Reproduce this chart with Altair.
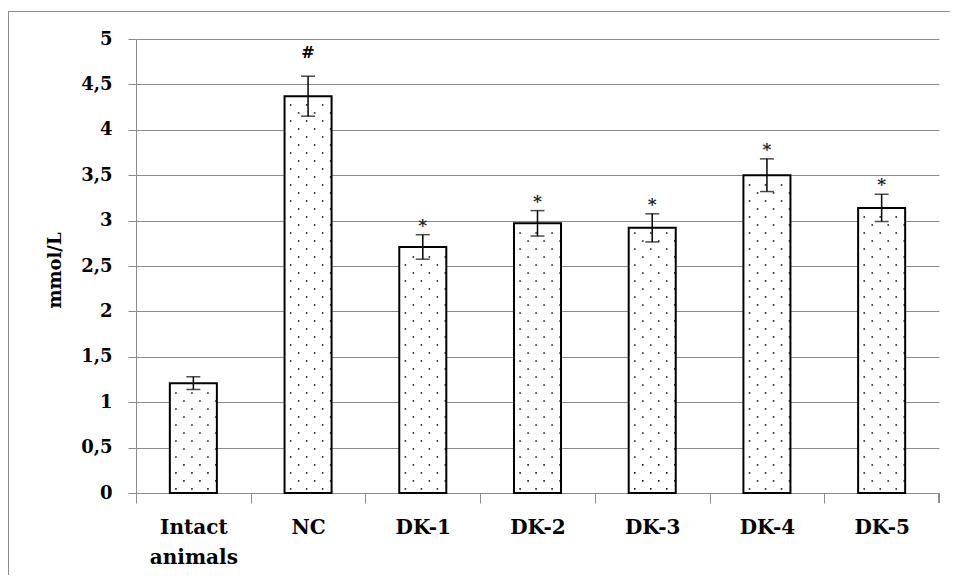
import altair as alt
import pandas as pd

categories = ["Intact animals", "NC", "DK-1", "DK-2", "DK-3", "DK-4", "DK-5"]
values = [1.21, 4.37, 2.71, 2.97, 2.92, 3.50, 3.14]
errors = [0.07, 0.22, 0.135, 0.14, 0.155, 0.18, 0.15]
marks = ["", "#", "*", "*", "*", "*", "*"]
y_ticks = [0, 0.5, 1, 1.5, 2, 2.5, 3, 3.5, 4, 4.5, 5]

df = pd.DataFrame({
    "category": categories,
    "value": values,
    "err": errors,
    "mark": marks,
})
df["low"] = df["value"] - df["err"]
df["high"] = df["value"] + df["err"]

# dotted fill texture (Excel "5%" pattern) built from the bar values
rows = []
row_step = 0.0881
for c, v in zip(categories, values):
    k = 0
    while 0.045 + k * row_step < v - 0.03:
        rows.append({"category": c, "yy": 0.045 + k * row_step, "parity": k % 2})
        k += 1
dots_df = pd.DataFrame(rows)
pattern_offsets = {0: [0.13, 0.47, 0.81], 1: [0.30, 0.64, 0.98]}

W, H = 803, 454
GRID = "#8c8c8c"
FONT = "DejaVu Serif"

xscale = alt.Scale(domain=categories, paddingInner=0.59, paddingOuter=0.295)
yscale = alt.Scale(domain=[0, 5], nice=False)

x_enc = alt.X(
    "category:N",
    sort=categories,
    scale=xscale,
    axis=alt.Axis(
        title=None,
        labelAngle=0,
        labelFont=FONT,
        labelFontSize=20,
        labelFontWeight="bold",
        labelColor="black",
        labelPadding=14,
        labelLineHeight=30,
        labelExpr="split(datum.label, ' ')",
        tickSize=10,
        tickColor=GRID,
        domainColor=GRID,
        tickOffset=-57.357,
        labelOffset=57.357,
        grid=False,
    ),
)

y_enc = alt.Y(
    "value:Q",
    scale=yscale,
    axis=alt.Axis(
        title="mmol/L",
        values=y_ticks,
        format=".1~f",
        labelExpr="replace(datum.label, '.', ',')",
        labelFont=FONT,
        labelFontSize=18,
        labelFontWeight="bold",
        labelColor="black",
        labelPadding=16,
        tickSize=8,
        tickColor=GRID,
        domainColor=GRID,
        grid=True,
        gridColor=GRID,
        gridWidth=1,
        titleFont=FONT,
        titleFontSize=18,
        titleFontWeight="bold",
        titleColor="black",
        titleX=-81,
        titleY=231,
        titleAngle=-90,
        titleAlign="center",
        titleBaseline="middle",
    ),
)

base = alt.Chart(df)

bars = base.mark_bar(fill="white", stroke="black", strokeWidth=2).encode(x=x_enc, y=y_enc)

dot_layers = []
for parity, offs in pattern_offsets.items():
    for o in offs:
        dot_layers.append(
            alt.Chart(dots_df)
            .transform_filter(f"datum.parity == {parity}")
            .mark_square(color="black", size=2.5, opacity=0.9)
            .encode(
                x=alt.X("category:N", sort=categories, scale=xscale, bandPosition=o),
                y=alt.Y("yy:Q", scale=yscale),
            )
        )

err_rule = base.mark_rule(color="black", strokeWidth=1.5).encode(
    x=alt.X("category:N", sort=categories, scale=xscale),
    y=alt.Y("low:Q", scale=yscale),
    y2="high:Q",
)
cap_lo = base.mark_tick(color="black", thickness=1.5, size=14).encode(
    x=alt.X("category:N", sort=categories, scale=xscale),
    y=alt.Y("low:Q", scale=yscale),
)
cap_hi = base.mark_tick(color="black", thickness=1.5, size=14).encode(
    x=alt.X("category:N", sort=categories, scale=xscale),
    y=alt.Y("high:Q", scale=yscale),
)

txt_hash = base.transform_filter("datum.mark == '#'").mark_text(
    font=FONT, fontSize=16, fontWeight="bold", color="black", baseline="middle", dy=-23
).encode(
    x=alt.X("category:N", sort=categories, scale=xscale),
    y=alt.Y("high:Q", scale=yscale),
    text="mark:N",
)
txt_star = base.transform_filter("datum.mark == '*'").mark_text(
    font=FONT, fontSize=17, fontWeight="bold", color="#222222", baseline="middle", dy=-9
).encode(
    x=alt.X("category:N", sort=categories, scale=xscale),
    y=alt.Y("high:Q", scale=yscale),
    text="mark:N",
)

last_tick = alt.Chart(df).mark_rule(color=GRID, strokeWidth=1).encode(
    x=alt.value({"expr": "width"}),
    y=alt.value({"expr": "height"}),
    y2=alt.value({"expr": "height + 10"}),
)

# chart-area frame: only its left and top edges fall inside the picture
frame_left = alt.Chart(df).mark_rule(color=GRID, strokeWidth=1).encode(
    x=alt.value(-127.5),
    y=alt.value(-27.5),
    y2=alt.value({"expr": "height + 200"}),
)
frame_top = alt.Chart(df).mark_rule(color=GRID, strokeWidth=1).encode(
    x=alt.value(-127.5),
    x2=alt.value({"expr": "width + 200"}),
    y=alt.value(-27.5),
)

chart = alt.layer(
    bars, *dot_layers, err_rule, cap_lo, cap_hi, txt_hash, txt_star, last_tick,
    frame_left, frame_top
).properties(
    width=W,
    height=H,
    autosize=alt.AutoSizeParams(type="none"),
    padding={"left": 128, "top": 31, "right": 11, "bottom": 82},
    background="white",
).configure_view(stroke=None)

chart.save("out.html", embed_options={"renderer": "svg", "actions": False})
